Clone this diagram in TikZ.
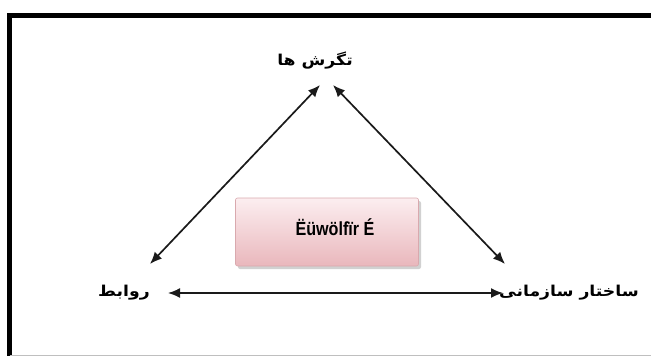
\documentclass[tikz,border=0pt]{standalone}
\usepackage{fontspec}
\setmainfont{Liberation Sans}
\newfontfamily\arabicfont[Script=Arabic]{DejaVu Sans}
\TeXXeTstate=1
\usetikzlibrary{arrows.meta,shadows}
\definecolor{boxtop}{HTML}{FCEEF0}
\definecolor{boxbot}{HTML}{E9B7BC}
\definecolor{boxedge}{HTML}{D9A9AE}
\definecolor{linegray}{HTML}{1A1A1A}
\begin{document}
\begin{tikzpicture}[x=1pt,y=-1pt,
  conn/.style={draw=linegray, line width=1.7pt, {Latex[length=12pt,width=10pt]}-{Latex[length=12pt,width=10pt]}},
  lbl/.style={font=\arabicfont\bfseries\fontsize{15}{17}\selectfont, inner sep=1pt, xscale=1.15},
  centrebox/.style={draw=boxedge, line width=0.6pt, rounded corners=2pt, top color=boxtop, bottom color=boxbot,
     drop shadow={shadow xshift=2.5pt, shadow yshift=-3pt, fill=gray!60, opacity=0.6},
     minimum width=183pt, minimum height=68pt, inner sep=0pt}
]
\useasboundingbox (0,0) rectangle (651,356);
% frame
\draw[line width=5pt, line cap=butt] (9.5,356) -- (9.5,15.5) -- (651,15.5);
\draw[gray!50, line width=1pt] (9.5,355) -- (651,355);

% labels
\node[lbl] (top) at (315,61) {\beginR تگرش ها\endR};
\node[lbl] (left) at (124,293) {\beginR روابط\endR};
\node[lbl] (right) at (569,293) {\beginR ساختار سازمانی\endR};

% centre box
\node[centrebox] (box) at (327,232) {};
\node[font=\bfseries\fontsize{19}{21}\selectfont, inner sep=0pt, xscale=0.85] (boxtext) at (335,227) {Ëüwölfïr É};

% anchors for connectors
\coordinate (tl) at (320,85);
\coordinate (tr) at (333,85);
\coordinate (bl) at (150,264);
\coordinate (br) at (505,264);
\coordinate (hl) at (168,293);
\coordinate (hr) at (503,293);

\draw[conn] (bl) -- (tl);
\draw[conn] (tr) -- (br);
\draw[conn] (hl) -- (hr);
\end{tikzpicture}
\end{document}
